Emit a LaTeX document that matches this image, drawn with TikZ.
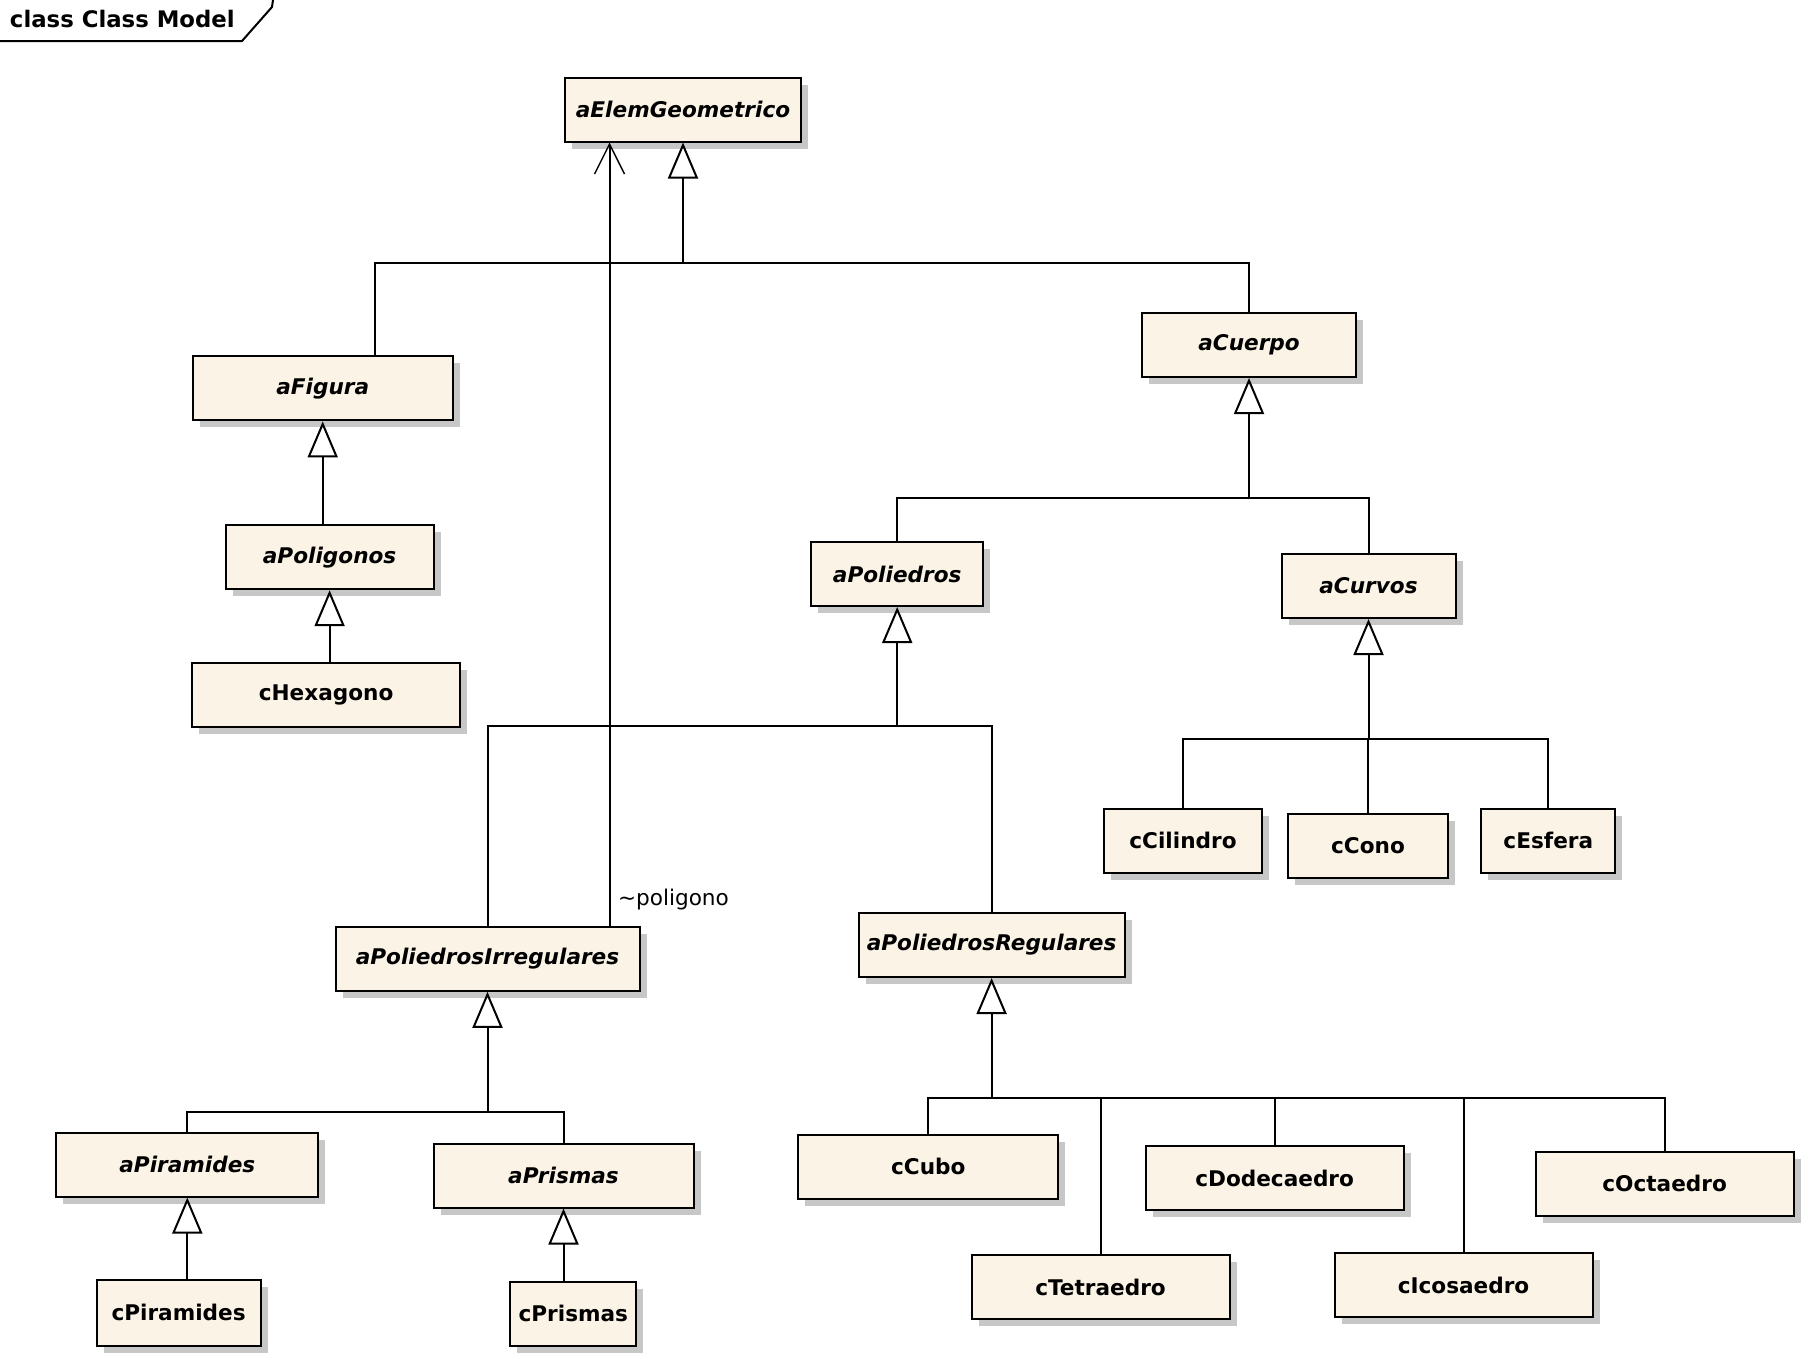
\documentclass[tikz,border=0pt]{standalone}
\usepackage{fontspec}
\setmainfont{DejaVu Sans}
\usepackage{xcolor}
\usepackage{tikz}
\usetikzlibrary{arrows.meta,positioning,calc,shadows}
\definecolor{boxfill}{RGB}{251,244,230}

\begin{document}
\begin{tikzpicture}[x=0.5pt,y=-0.5pt,line width=1pt,
  every node/.style={font=\fontsize{10.8}{13}\selectfont},
  cl/.style={draw,fill=boxfill,minimum height=32pt,inner sep=0pt,
    font=\fontsize{10.8}{13}\selectfont\bfseries,
    drop shadow={shadow xshift=3.5pt,shadow yshift=-3.5pt,fill=black!22,opacity=1}},
  ab/.style={cl,font=\fontsize{10.8}{13}\selectfont\bfseries\itshape},
  gen/.style={-{Triangle[open,length=18pt,width=15pt]}},
  assoc/.style={-{Straight Barb[length=15pt,width=15pt,line width=0.7pt]}}]
\useasboundingbox (0,0) rectangle (1807,1356);
% frame tab
\node[font=\fontsize{11.4}{13}\selectfont\bfseries,anchor=west,inner sep=0pt] (frame) at (9,19) {class Class Model};
\draw (0,41) -- (242,41) -- (272,7) -- (273,0);
% classes
\node[ab,minimum width=118pt] (aElemGeometrico) at (683,109.5) {aElemGeometrico};
\node[ab,minimum width=130pt] (aFigura) at (322.7,388.4) {aFigura};
\node[ab,minimum width=107pt] (aCuerpo) at (1249,345) {aCuerpo};
\node[ab,minimum width=104pt] (aPoligonos) at (329.6,557.2) {aPoligonos};
\node[cl,minimum width=134pt] (cHexagono) at (326.1,695) {cHexagono};
\node[ab,minimum width=86pt] (aPoliedros) at (897.2,574) {aPoliedros};
\node[ab,minimum width=87pt] (aCurvos) at (1368.5,586) {aCurvos};
\node[cl,minimum width=79pt] (cCilindro) at (1183,840.7) {cCilindro};
\node[cl,minimum width=80pt] (cCono) at (1368,846) {cCono};
\node[cl,minimum width=67pt] (cEsfera) at (1548.3,840.7) {cEsfera};
\node[ab,minimum width=152pt] (aPoliedrosIrregulares) at (487.5,958.8) {aPoliedrosIrregulares};
\node[ab,minimum width=133pt] (aPoliedrosRegulares) at (991.6,945) {aPoliedrosRegulares};
\node[ab,minimum width=131pt] (aPiramides) at (187.3,1164.5) {aPiramides};
\node[ab,minimum width=130pt] (aPrismas) at (563.5,1175.5) {aPrismas};
\node[cl,minimum width=82pt,minimum height=33pt] (cPiramides) at (178.6,1312.6) {cPiramides};
\node[cl,minimum width=63pt] (cPrismas) at (573.3,1313.8) {cPrismas};
\node[cl,minimum width=130pt] (cCubo) at (928.3,1166.8) {cCubo};
\node[cl,minimum width=129pt] (cTetraedro) at (1100.5,1287.2) {cTetraedro};
\node[cl,minimum width=129pt] (cDodecaedro) at (1274.6,1178.3) {cDodecaedro};
\node[cl,minimum width=129pt] (cIcosaedro) at (1463.5,1285) {cIcosaedro};
\node[cl,minimum width=129pt] (cOctaedro) at (1664.6,1183.5) {cOctaedro};
% bus points
\coordinate (jElem) at (683,262.5);
\coordinate (jFig) at (374.5,262.5);
\coordinate (jAssoc) at (609.5,700);
\coordinate (jCuerpo) at (1249,497.8);
\coordinate (jPoli) at (897.2,726);
\coordinate (jCurvos) at (1368.5,738.7);
\coordinate (jIrr) at (487.5,1112);
\coordinate (jReg) at (991.6,1098);
% generalizations
\draw (jFig |- aFigura.north) -- (jFig) -| (aCuerpo.north);
\draw[gen] (jElem) -- (aElemGeometrico.south);
\draw[gen] (aPoligonos.north -| aFigura.south) -- (aFigura.south);
\draw[gen] (cHexagono.north -| aPoligonos.south) -- (aPoligonos.south);
\draw (aPoliedros.north) |- (jCuerpo) -| (aCurvos.north);
\draw[gen] (jCuerpo) -- (aCuerpo.south);
\draw (aPoliedrosIrregulares.north) |- (jPoli) -| (aPoliedrosRegulares.north);
\draw[gen] (jPoli) -- (aPoliedros.south);
\draw (cCilindro.north) |- (jCurvos) -| (cEsfera.north);
\draw (cCono.north) -- (cCono.north |- jCurvos);
\draw[gen] (jCurvos) -- (aCurvos.south);
\draw (aPiramides.north) |- (jIrr) -| (aPrismas.north);
\draw[gen] (jIrr) -- (aPoliedrosIrregulares.south);
\draw[gen] (cPiramides.north -| aPiramides.south) -- (aPiramides.south);
\draw[gen] (cPrismas.north -| aPrismas.south) -- (aPrismas.south);
\draw (cCubo.north) |- (jReg) -| (cOctaedro.north);
\draw (cTetraedro.north) -- (cTetraedro.north |- jReg);
\draw (cDodecaedro.north) -- (cDodecaedro.north |- jReg);
\draw (cIcosaedro.north) -- (cIcosaedro.north |- jReg);
\draw[gen] (jReg) -- (aPoliedrosRegulares.south);
% association
\draw[assoc] (aPoliedrosIrregulares.north -| jAssoc) -- (jAssoc |- aElemGeometrico.south);
\node[anchor=west,inner sep=0pt] (lblPoligono) at (617,900) {\textasciitilde poligono};
\end{tikzpicture}
\end{document}
